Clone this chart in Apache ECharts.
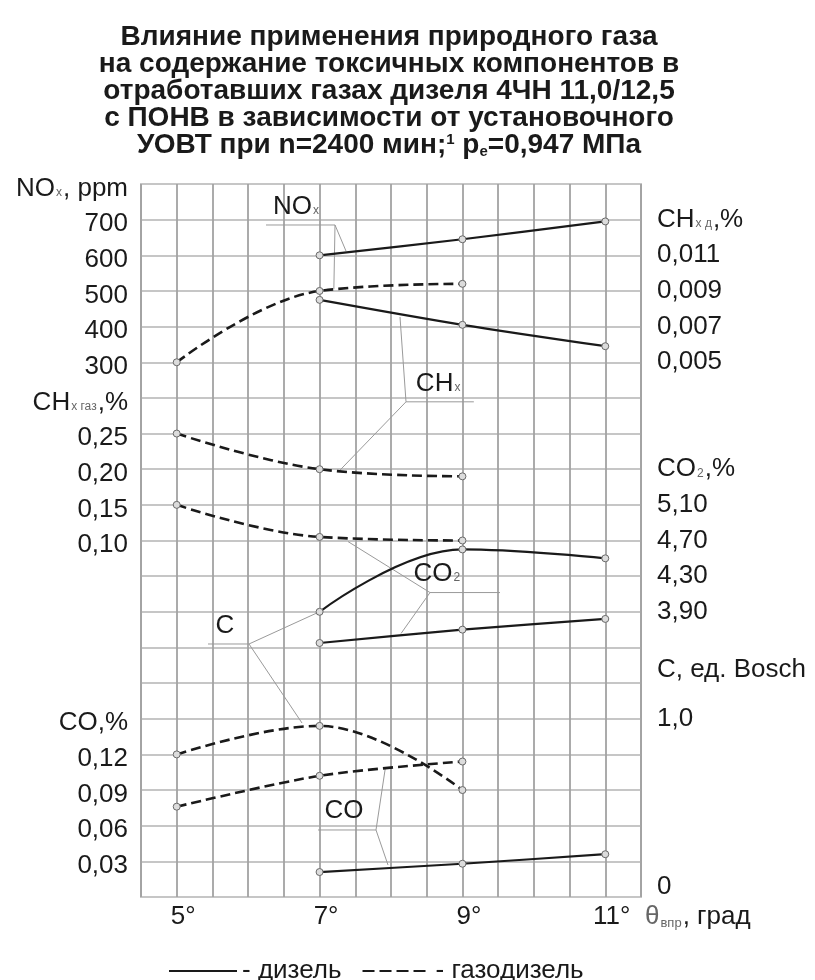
<!DOCTYPE html>
<html>
<head>
<meta charset="utf-8">
<script src="https://cdn.jsdelivr.net/npm/echarts@6/dist/echarts.min.js"></script>
<style>
  html, body { margin: 0; padding: 0; background: #fff; }
  #chart { width: 815px; height: 980px; }
</style>
</head>
<body>
<div id="chart"></div>
<script>
// Injection timing, degrees
const anglesDiesel = [7, 9, 11];
const anglesGas = [5, 7, 9];

// Measured emissions: diesel (solid) and gas-diesel (dashed)
const noxDiesel = [600, 645, 695];         // ppm
const noxGas = [300, 500, 520];            // ppm
const chDiesel = [0.0085, 0.0071, 0.0059]; // %
const chGas = [0.25, 0.20, 0.19];          // %
const co2Diesel = [3.55, 3.70, 3.82];      // %
const co2Gas = [5.10, 4.74, 4.70];         // %
const sootDiesel = [1.60, 1.95, 1.90];     // Bosch units
const sootGas = [0.80, 0.96, 0.60];        // Bosch units
const coDiesel = [0.021, 0.028, 0.036];    // %
const coGas = [0.076, 0.102, 0.114];       // %

// Tick labels printed on each scale
const angleTicks = [5, 7, 9, 11];
const noxTicks = [300, 400, 500, 600, 700];
const chGasTicks = [0.10, 0.15, 0.20, 0.25];
const coTicks = [0.03, 0.06, 0.09, 0.12];
const chDieselTicks = [0.005, 0.007, 0.009, 0.011];
const co2Ticks = [3.90, 4.30, 4.70, 5.10];
const sootTicks = [0, 1.0];

const FONT = 'Liberation Sans';
const INK = '#1a1a1a';

const chart = echarts.init(document.getElementById('chart'));

const pairs = (xs, ys) => xs.map((x, i) => [x, ys[i]]);

// label formatter: prints tick values with a decimal comma, and the scale's
// caption on one chosen grid line
function scaleLabels(ticks, decimals, caption, captionAt) {
  return function (v) {
    if (captionAt != null && Math.abs(v - captionAt) < 1e-7) return caption;
    for (const t of ticks) {
      if (Math.abs(v - t) < 1e-7) {
        if (t === 0) return '{zero|0}';
        return t.toFixed(decimals).replace('.', ',');
      }
    }
    return '';
  };
}

const labelRich = {
  s: { fontSize: 12, fontFamily: FONT, color: '#666', verticalAlign: 'bottom', padding: [0, 1, 3, 1] },
  up: { fontSize: 26, fontFamily: FONT, color: INK, padding: [0, 0, 26, 0] },
  zero: { fontSize: 26, fontFamily: FONT, color: INK, padding: [0, 0, 20, 0] }
};

function sideAxis(position, min, max, interval, formatter, extra) {
  return Object.assign({
    type: 'value',
    position: position,
    min: min, max: max, interval: interval,
    axisLine: { show: false, onZero: false },
    axisTick: { show: false },
    splitLine: { show: false },
    axisLabel: {
      show: true,
      formatter: formatter,
      margin: position === 'left' ? 13 : 16,
      fontSize: 26,
      fontFamily: FONT,
      color: INK,
      align: position === 'left' ? 'right' : 'left',
      padding: position === 'left' ? [9, 0, 0, 0] : [0, 0, 0, 0],
      rich: labelRich
    }
  }, extra || {});
}

const solidLine = { color: INK, width: 2.2, type: 'solid' };
const dashedLine = { color: INK, width: 2.6, type: [10, 5] };
const pointStyle = { color: '#dcdcdc', borderColor: '#6a6a6a', borderWidth: 1 };

function curve(name, yAxisIndex, xs, ys, dashed, smooth) {
  return {
    name: name,
    type: 'line',
    xAxisIndex: 0,
    yAxisIndex: yAxisIndex,
    data: pairs(xs, ys),
    smooth: smooth,
    symbol: 'circle',
    symbolSize: 7,
    itemStyle: pointStyle,
    lineStyle: dashed ? dashedLine : solidLine,
    z: 5,
    silent: true,
    animation: false
  };
}

// Callout captions and their leader lines, placed in (degrees, grid cell) units
const callouts = [
  { text: 'NO{s|x}', at: [6.67, 19.35],
    leaders: [[[6.25, 18.85], [7.216, 18.85], [7.37, 18.12]], [[7.216, 18.85], [7.20, 17.05]]] },
  { text: 'CH{s|x}', at: [8.66, 14.39],
    leaders: [[[9.16, 13.89], [8.21, 13.89], [8.126, 16.27]], [[8.21, 13.89], [7.265, 11.93]]] },
  { text: 'CO{s|2}', at: [8.64, 9.06],
    leaders: [[[9.526, 8.54], [8.546, 8.54], [7.398, 9.97]], [[8.546, 8.54], [8.14, 7.39]]] },
  { text: 'C', at: [5.676, 7.60],
    leaders: [[[5.438, 7.097], [6.012, 7.097], [7.02, 8.02]], [[6.012, 7.097], [6.754, 4.88]]] },
  { text: 'CO', at: [7.342, 2.41],
    leaders: [[[6.978, 1.88], [7.79, 1.88], [7.92, 3.61]], [[7.79, 1.88], [7.958, 0.898]]] }
];

const leaderSeries = [];
callouts.forEach(c => {
  c.leaders.forEach(path => {
    leaderSeries.push({
      type: 'line', xAxisIndex: 0, yAxisIndex: 6, data: path,
      symbol: 'none', silent: true, animation: false, z: 3,
      lineStyle: { color: '#9a9a9a', width: 1 }
    });
  });
});

const option = {
  backgroundColor: '#fff',
  animation: false,
  title: {
    text: 'Влияние применения природного газа\n' +
          'на содержание токсичных компонентов в\n' +
          'отработавших газах дизеля 4ЧН 11,0/12,5\n' +
          'с ПОНВ в зависимости от установочного\n' +
          'УОВТ при n=2400 мин;{sup|1} p{sub|e}=0,947 МПа',
    left: 389,
    top: 24,
    padding: 0,
    textAlign: 'center',
    textStyle: {
      fontFamily: FONT, fontSize: 28, fontWeight: 'bold', color: INK, lineHeight: 27,
      rich: {
        sup: { fontFamily: FONT, fontSize: 15, fontWeight: 'bold', color: INK, verticalAlign: 'top', lineHeight: 27, padding: [0, 0, 12, 0] },
        sub: { fontFamily: FONT, fontSize: 15, fontWeight: 'bold', color: INK, verticalAlign: 'bottom', lineHeight: 27, padding: [10, 0, 0, 0] }
      }
    }
  },
  legend: {
    data: ['- дизель', '- газодизель'],
    left: 163,
    top: 953,
    itemWidth: 68,
    itemHeight: 14,
    itemGap: 20,
    selectedMode: false,
    itemStyle: { opacity: 0 },
    textStyle: { fontFamily: FONT, fontSize: 26, color: INK }
  },
  grid: {
    left: 141, top: 184, width: 500, height: 713,
    show: true, borderColor: '#9a9a9a', borderWidth: 1.5,
    outerBoundsMode: 'none', containLabel: false
  },
  xAxis: {
    type: 'value',
    position: 'bottom',
    min: 4.5, max: 11.5, interval: 0.5,
    axisLine: { show: false, onZero: false },
    axisTick: { show: false },
    splitLine: { show: true, lineStyle: { color: '#a2a2a2', width: 1.8 } },
    axisLabel: {
      formatter: v => angleTicks.some(t => Math.abs(t - v) < 1e-7) ? v + '°' : '',
      fontSize: 26, fontFamily: FONT, color: INK, margin: 7, padding: [0, 0, 0, 13]
    },
    name: '{th|θ}{sub|впр}{m|, град}',
    nameLocation: 'end',
    nameGap: 4,
    nameTextStyle: {
      align: 'left', verticalAlign: 'middle', padding: [40, 0, 0, 0],
      rich: {
        th: { fontSize: 26, fontFamily: FONT, color: '#666' },
        sub: { fontSize: 13, fontFamily: FONT, color: '#666', verticalAlign: 'bottom', padding: [0, 1, 0, 1] },
        m: { fontSize: 26, fontFamily: FONT, color: INK }
      }
    }
  },
  yAxis: [
    // 0: NOx, ppm (left) — also carries the horizontal grid
    sideAxis('left', -1200, 800, 100, scaleLabels(noxTicks, 0, 'NO{s|x}, ppm', 800), {
      splitLine: { show: true, lineStyle: { color: '#c6c6c6', width: 2.2 } }
    }),
    // 1: CHx gas, % (left)
    sideAxis('left', -0.4, 0.6, 0.05, scaleLabels(chGasTicks, 2, 'CH{s|x газ},%', 0.30)),
    // 2: CO, % (left)
    sideAxis('left', 0, 0.6, 0.03, scaleLabels(coTicks, 2, 'CO,%', 0.15)),
    // 3: CHx diesel, % (right)
    sideAxis('right', -0.025, 0.015, 0.002, scaleLabels(chDieselTicks, 3, 'CH{s|x д},%', 0.013)),
    // 4: CO2, % (right)
    sideAxis('right', 0.7, 8.7, 0.4, scaleLabels(co2Ticks, 2, 'CO{s|2},%', 5.5)),
    // 5: soot, Bosch units (right)
    sideAxis('right', 0, 4, 0.2, scaleLabels(sootTicks, 1, '{up|C, ед. Bosch}', 1.2)),
    // 6: grid-cell scale for callouts (hidden)
    { type: 'value', min: 0, max: 20, show: false, splitLine: { show: false }, axisLine: { onZero: false } }
  ],
  series: [
    curve('NOx дизель', 0, anglesDiesel, noxDiesel, false, 0.3),
    curve('NOx газодизель', 0, anglesGas, noxGas, true, 0.4),
    curve('CHx дизель', 3, anglesDiesel, chDiesel, false, 0.3),
    curve('CHx газодизель', 1, anglesGas, chGas, true, 0.4),
    curve('CO2 газодизель', 4, anglesGas, co2Gas, true, 0.4),
    curve('C дизель', 5, anglesDiesel, sootDiesel, false, 0.4),
    curve('CO2 дизель', 4, anglesDiesel, co2Diesel, false, 0.2),
    curve('C газодизель', 5, anglesGas, sootGas, true, 0.4),
    curve('CO газодизель', 2, anglesGas, coGas, true, 0.3),
    curve('CO дизель', 2, anglesDiesel, coDiesel, false, 0.2),
    { name: '- дизель', type: 'line', data: [], symbol: 'none', itemStyle: { opacity: 0 },
      lineStyle: { color: INK, width: 2.2 } },
    { name: '- газодизель', type: 'line', data: [], symbol: 'none', itemStyle: { opacity: 0 },
      lineStyle: { color: INK, width: 2.6, type: [12, 5] } }
  ].concat(leaderSeries)
};

chart.setOption(option);

// Callout captions, anchored through the grid-cell scale
chart.setOption({
  graphic: callouts.map(c => {
    const p = chart.convertToPixel({ xAxisIndex: 0, yAxisIndex: 6 }, c.at);
    return {
      type: 'text', x: p[0], y: p[1], z: 100, silent: true,
      style: {
        text: c.text, align: 'center', verticalAlign: 'middle',
        fontSize: 26, fontFamily: FONT, fill: INK,
        rich: { s: { fontSize: 12, fontFamily: FONT, fill: '#666', verticalAlign: 'bottom', padding: [0, 0, 3, 1] } }
      }
    };
  })
});
</script>
</body>
</html>
